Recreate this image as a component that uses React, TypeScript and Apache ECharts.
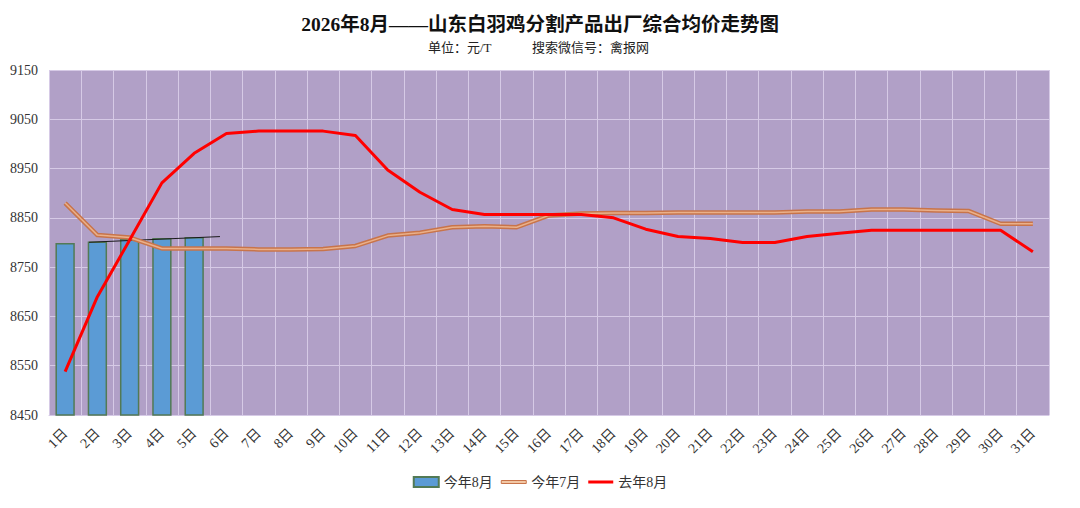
import { useEffect, useRef } from 'react';
import * as echarts from 'echarts';

const days = Array.from({ length: 31 }, (_, i) => `${i + 1}日`);

// 今年8月 (bars)
const thisAug = [8799, 8802, 8807, 8809, 8811];
// 今年7月
const thisJul = [
  8880, 8815, 8810, 8788, 8788, 8788, 8786, 8786, 8787, 8793, 8814, 8820, 8831, 8833, 8831, 8855,
  8859, 8860, 8860, 8861, 8861, 8861, 8861, 8863, 8863, 8867, 8867, 8865, 8864, 8838, 8838,
];
// 去年8月
const lastAug = [
  8538, 8690, 8805, 8921, 8981, 9021, 9026, 9026, 9026, 9017, 8947, 8902, 8867, 8857, 8857, 8857,
  8857, 8850, 8827, 8812, 8808, 8800, 8800, 8812, 8819, 8825, 8825, 8825, 8825, 8825, 8781,
];
// trendline over the bars (x in day-band units, y in price)
const trendX = [1.24, 5.3];
const trendY = [8800.5, 8812];

const yTicks = { min: 8450, max: 9150, step: 100 };

const FONT = "'Liberation Serif', 'Noto Sans CJK SC', serif";
// thin bar inside a 25x10 legend box
const LINE_ICON = 'path://M0,0 M25,10 M0,3.5 L25,3.5 L25,6.5 L0,6.5 Z';

export default function App() {
  const chartRef = useRef<HTMLDivElement>(null);

  useEffect(() => {
    document.body.style.margin = '0';
    if (!chartRef.current) return;
    const chart = echarts.init(chartRef.current, null, { renderer: 'svg' });

    const option = {
      animation: false,
      title: [
        {
          text: '2026年8月——山东白羽鸡分割产品出厂综合均价走势图',
          left: 'center',
          top: 10,
          textStyle: { fontSize: 19.5, fontWeight: 'bold', color: '#111', fontFamily: FONT },
        },
        {
          text: '单位：元/T',
          left: 423,
          top: 36,
          textStyle: { fontSize: 13, fontWeight: 'normal', color: '#222', fontFamily: FONT },
        },
        {
          text: '搜索微信号：禽报网',
          left: 527,
          top: 36,
          textStyle: { fontSize: 13, fontWeight: 'normal', color: '#222', fontFamily: FONT },
        },
      ],
      legend: {
        bottom: 14,
        left: 'center',
        itemWidth: 25,
        itemHeight: 10,
        itemGap: 8,
        textStyle: { fontSize: 14, color: '#333', fontFamily: FONT },
        data: [
          { name: '今年8月', icon: 'rect' },
          {
            name: '今年7月',
            icon: LINE_ICON,
            itemStyle: { color: '#f2c7a4', borderColor: '#c8744a', borderWidth: 1 },
          },
          {
            name: '去年8月',
            icon: LINE_ICON,
            itemStyle: { color: '#ff0000', borderWidth: 0 },
          },
        ],
      },
      grid: {
        left: 49,
        right: 31,
        top: 70,
        bottom: 93,
        show: true,
        backgroundColor: '#b1a0c7',
        borderWidth: 0,
      },
      xAxis: [
        {
          type: 'category',
          data: days,
          boundaryGap: true,
          axisLine: { show: true, lineStyle: { color: '#d6cae6' } },
          axisTick: { show: false },
          axisLabel: {
            interval: 0,
            rotate: 45,
            fontSize: 14,
            color: '#333',
            margin: 16,
            fontFamily: FONT,
          },
          splitLine: { show: true, lineStyle: { color: '#d6cae6', width: 1 } },
        },
        {
          type: 'value',
          min: 0,
          max: 31,
          show: false,
        },
      ],
      yAxis: {
        type: 'value',
        min: yTicks.min,
        max: yTicks.max,
        interval: yTicks.step,
        axisLine: { show: false },
        axisTick: { show: false },
        axisLabel: {
          fontSize: 14,
          color: '#333',
          margin: 11,
          fontFamily: FONT,
          formatter: (v: number) => String(v),
        },
        splitLine: { lineStyle: { color: '#d6cae6', width: 1 } },
      },
      series: [
        {
          name: '今年8月',
          type: 'bar',
          data: thisAug,
          barWidth: '60%',
          itemStyle: { color: '#5b9bd5', borderColor: '#527a55', borderWidth: 1.5 },
          z: 1,
        },
        {
          name: 'trend',
          type: 'line',
          xAxisIndex: 1,
          data: trendX.map((x, i) => [x, trendY[i]]),
          symbol: 'none',
          lineStyle: { color: '#1a1a1a', width: 1 },
          silent: true,
          z: 2,
        },
        {
          name: '今年7月',
          type: 'line',
          data: thisJul,
          symbol: 'none',
          lineStyle: { color: '#c8744a', width: 4.5, join: 'round' },
          z: 3,
        },
        {
          name: '今年7月',
          type: 'line',
          data: thisJul,
          symbol: 'none',
          lineStyle: { color: '#eab08a', width: 1.5, join: 'round' },
          z: 4,
        },
        {
          name: '去年8月',
          type: 'line',
          data: lastAug,
          symbol: 'none',
          itemStyle: { color: '#ff0000' },
          lineStyle: { color: '#ff0000', width: 3, join: 'round' },
          z: 5,
        },
      ],
    };

    chart.setOption(option);
    return () => {
      chart.dispose();
    };
  }, []);

  return <div ref={chartRef} style={{ width: '1080px', height: '508px' }}></div>;
}
